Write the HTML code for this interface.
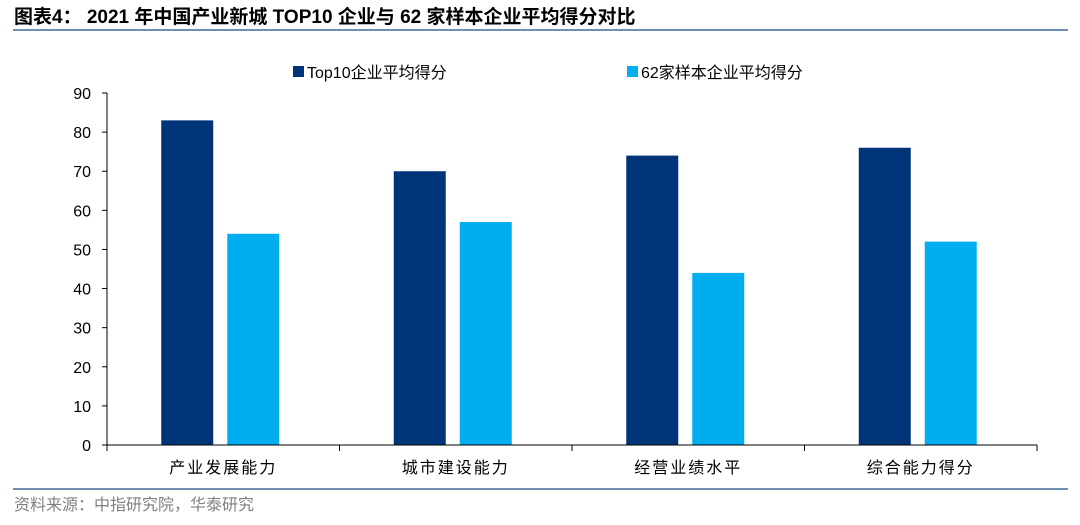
<!DOCTYPE html>
<html><head><meta charset="utf-8"><style>
body{margin:0;background:#fff;width:1080px;height:525px;overflow:hidden}
svg{display:block;font-family:"Liberation Sans","Noto Sans CJK SC",sans-serif}
</style></head><body>
<svg id="c" width="1080" height="525">
<text x="14" y="23" font-size="19" font-weight="bold" fill="#000">图表4：  2021 年中国产业新城 TOP10 企业与 62 家样本企业平均得分对比</text>
<rect x="13" y="29" width="1055" height="2" fill="#6f8fb5"/>
<rect x="13" y="488" width="1055" height="2" fill="#6f8fb5"/>
<text x="14" y="510" font-size="16" fill="#808080">资料来源：中指研究院，华泰研究</text>
<g>
<rect x="293" y="66" width="11" height="11" fill="#003478"/>
<text x="307" y="78" font-size="16" fill="#000">Top10企业平均得分</text>
<rect x="627" y="66" width="11" height="11" fill="#00adef"/>
<text x="641" y="78" font-size="16" fill="#000">62家样本企业平均得分</text>
</g>
<g id="plot"></g>
</svg>
<script>
const categories=["产业发展能力","城市建设能力","经营业绩水平","综合能力得分"];
const top10Values=[83,70,74,76];
const sampleValues=[54,57,44,52];
const yTicks=[0,10,20,30,40,50,60,70,80,90];
const NS="http://www.w3.org/2000/svg";
const g=document.getElementById("plot");
const x0=107,x1=1037,y0=445,y1=93,yMax=90;
const y=v=>y0-(v/yMax)*(y0-y1);
const bw=(x1-x0)/categories.length;
function mk(t,a){const e=document.createElementNS(NS,t);for(const k in a)e.setAttribute(k,a[k]);g.appendChild(e);return e;}
yTicks.forEach(v=>{
 const l=mk("line",{x1:x0-5,x2:x0,y1:y(v),y2:y(v),stroke:"#000","stroke-width":1});
 
 
 const t=mk("text",{x:x0-16,y:y(v)+6,"text-anchor":"end","font-size":16,fill:"#000"});
 t.textContent=v;
 
 
});
categories.forEach((c,i)=>{
 const cx=x0+bw*(i+0.5);
 const a=mk("rect",{x:cx-62,y:y(top10Values[i]),width:52,height:y0-y(top10Values[i]),fill:"#003478"});
 
 
 const b=mk("rect",{x:cx+4,y:y(sampleValues[i]),width:52,height:y0-y(sampleValues[i]),fill:"#00adef"});
 
 
 const t=mk("text",{x:cx,y:473,"text-anchor":"middle","font-size":16,fill:"#000","letter-spacing":"2"});
 t.textContent=c;
 
 
 const tk=mk("line",{x1:x0+bw*(i+1),x2:x0+bw*(i+1),y1:y0,y2:y0+6,stroke:"#000"});
 
 
});
const ya=mk("line",{x1:x0,x2:x0,y1:y1,y2:y0+6,stroke:"#000"});


const xa=mk("line",{x1:x0-5,x2:x1,y1:y0,y2:y0,stroke:"#000"});


</script>
</body></html>
